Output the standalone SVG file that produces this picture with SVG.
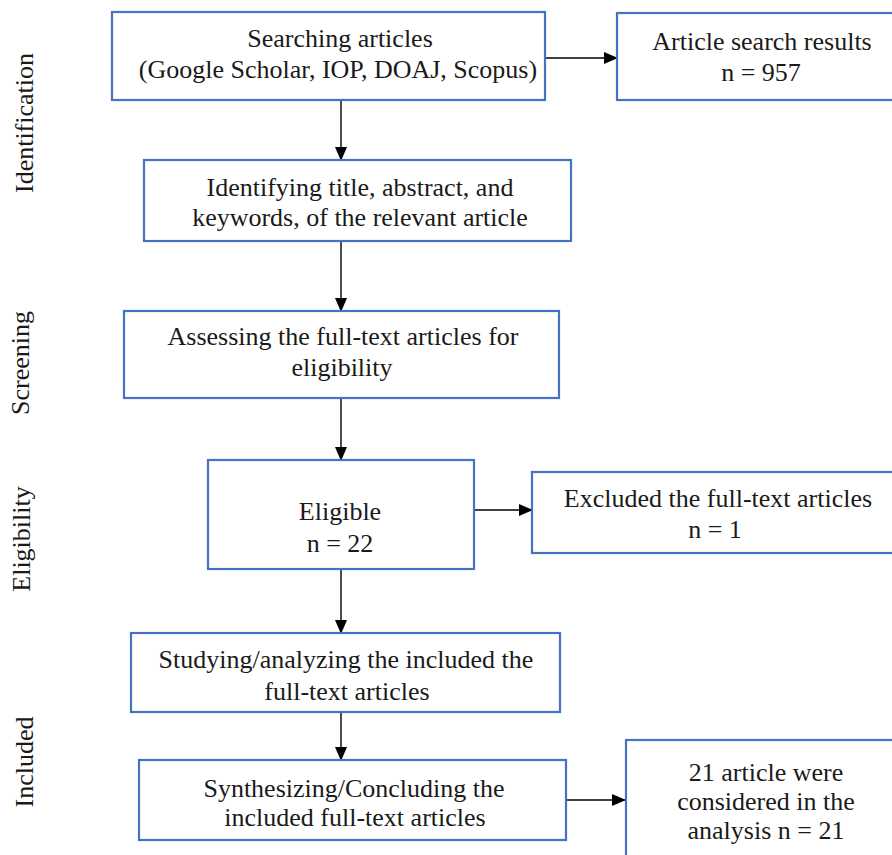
<svg xmlns="http://www.w3.org/2000/svg" width="892" height="855" viewBox="0 0 892 855">
<defs>
<style>
.box{fill:#fff;stroke:#4472C4;stroke-width:2.2}
.t{font-family:"Liberation Serif","Times New Roman",serif;font-size:26px;fill:#1a1a1a;text-anchor:middle}
.c{stroke:#000;stroke-width:1.4;fill:none;marker-end:url(#ah)}
</style>
<marker id="ah" markerWidth="14" markerHeight="12" refX="13" refY="6" orient="auto" markerUnits="userSpaceOnUse">
<path d="M0,0 L14,6 L0,12 Z" fill="#000"/>
</marker>
</defs>
<rect width="892" height="855" fill="#fff"/>
<g id="stages">
<text class="t" transform="translate(33,123) rotate(-90)">Identification</text>
<text class="t" transform="translate(29,363) rotate(-90)">Screening</text>
<text class="t" transform="translate(30,539) rotate(-90)">Eligibility</text>
<text class="t" transform="translate(33,762) rotate(-90)">Included</text>
</g>
<g id="connectors">
<line class="c" x1="545" y1="58" x2="617" y2="58"/>
<line class="c" x1="341" y1="100" x2="341" y2="160"/>
<line class="c" x1="341" y1="241" x2="341" y2="311"/>
<line class="c" x1="341" y1="398" x2="341" y2="460"/>
<line class="c" x1="474" y1="510" x2="532" y2="510"/>
<line class="c" x1="341" y1="569" x2="341" y2="633"/>
<line class="c" x1="341" y1="712" x2="341" y2="760"/>
<line class="c" x1="567" y1="800" x2="625" y2="800"/>
</g>
<g id="n1"><rect class="box" x="112" y="12" width="433" height="88"/>
<text class="t" x="340" y="47">Searching articles</text>
<text class="t" x="338" y="78">(Google Scholar, IOP, DOAJ, Scopus)</text></g>
<g id="n2"><rect class="box" x="617" y="13" width="290" height="87"/>
<text class="t" x="762" y="50">Article search results</text>
<text class="t" x="761" y="81">n = 957</text></g>
<g id="n3"><rect class="box" x="144" y="160" width="427" height="81"/>
<text class="t" x="360" y="196">Identifying title, abstract, and</text>
<text class="t" x="360" y="226">keywords, of the relevant article</text></g>
<g id="n4"><rect class="box" x="124" y="311" width="435" height="87"/>
<text class="t" x="343" y="345">Assessing the full-text articles for</text>
<text class="t" x="342" y="376">eligibility</text></g>
<g id="n5"><rect class="box" x="208" y="460" width="266" height="109"/>
<text class="t" x="340" y="520">Eligible</text>
<text class="t" x="340" y="552">n = 22</text></g>
<g id="n6"><rect class="box" x="532" y="472" width="375" height="81"/>
<text class="t" x="718" y="507">Excluded the full-text articles</text>
<text class="t" x="715" y="538">n = 1</text></g>
<g id="n7"><rect class="box" x="131" y="633" width="429" height="79"/>
<text class="t" x="346" y="668">Studying/analyzing the included the</text>
<text class="t" x="347" y="700">full-text articles</text></g>
<g id="n8"><rect class="box" x="139" y="760" width="427" height="80"/>
<text class="t" x="354" y="797">Synthesizing/Concluding the</text>
<text class="t" x="355" y="826">included full-text articles</text></g>
<g id="n9"><rect class="box" x="626" y="740" width="281" height="130"/>
<text class="t" x="766" y="781">21 article were</text>
<text class="t" x="766" y="810">considered in the</text>
<text class="t" x="766" y="839">analysis n = 21</text></g>
</svg>
